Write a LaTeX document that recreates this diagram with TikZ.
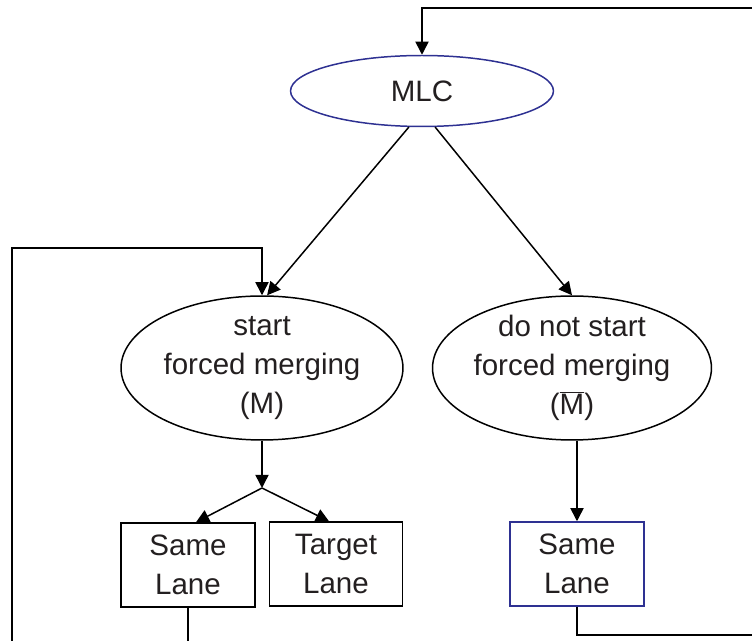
\documentclass[tikz,border=0pt]{standalone}
\usepackage{fontspec}
\setmainfont{Liberation Sans}
\usetikzlibrary{arrows.meta,shapes.geometric}
\definecolor{mlcblue}{RGB}{46,49,146}
\definecolor{inkgray}{RGB}{35,31,32}

\begin{document}
\begin{tikzpicture}[->,>={Triangle[length=7.5pt,width=7.5pt]},
    x=0.02cm, y=-0.02cm,
    line width=0.85pt,
    every node/.style={font=\fontsize{16.8}{22.2}\selectfont, text=inkgray}]

    \useasboundingbox (0,0) rectangle (752,641);

    \node[ellipse,
          draw = mlcblue,
          minimum width = 5.26cm,
          minimum height = 1.42cm
          ] (mlc) at (422,91) {};
    \node[] (mlctxt) at (mlc.center) {MLC};

    \node[ellipse,
          draw,
          minimum width = 5.64cm,
          minimum height = 2.88cm
          ] (sfm) at (262,368) {};
    \node[align=center] (sfmtxt) at (sfm.center) {start\\forced merging\\(M)};

    \node[ellipse,
          draw,
          minimum width = 5.58cm,
          minimum height = 2.88cm
          ] (dnsfm) at (572,368) {};
    \node[align=center] (dnsfmtxt) at (dnsfm.center)
        {do not start\\forced merging\\($\overline{\mbox{M}}$)};

    \node[rectangle,
          draw,
          minimum width = 2.68cm,
          minimum height = 1.68cm
          ] (sl1) at (188,565) {};
    \node[align=center] (sl1txt) at (sl1.center) {Same\\Lane};

    \node[rectangle,
          draw,
          minimum width = 2.66cm,
          minimum height = 1.68cm
          ] (tl) at (336,564) {};
    \node[align=center] (tltxt) at (tl.center) {Target\\Lane};

    \node[rectangle,
          draw = mlcblue,
          minimum width = 2.68cm,
          minimum height = 1.68cm
          ] (sl2) at (577,564) {};
    \node[align=center] (sl2txt) at (sl2.center) {Same\\Lane};

    % split point below start forced merging
    \coordinate (split) at (262,488);

    % loop corners (outside the page)
    \coordinate (fbtopright) at (770,8);
    \coordinate (fbbotright) at (770,635);
    \coordinate (fbtopleft) at (12,248);
    \coordinate (fbbotleft) at (12,660);

    \path[]
    (mlc.250) edge [] (sfm.86)
    (mlc.290) edge [] (dnsfm.north)
    (sfm.south) edge [] (split)
    (split) edge [] ([xshift=.16cm]sl1.north)
    (split) edge [] ([xshift=-.14cm]tl.north)
    (dnsfm.south -| sl2.north) edge [] (sl2.north) ;

    % feedback loops
    \draw (sl2.south) |- (fbbotright) -- (fbtopright) -| (mlc.north);
    \draw (sl1.south) |- (fbbotleft) -- (fbtopleft) -| (sfm.north);

\end{tikzpicture}
\end{document}
